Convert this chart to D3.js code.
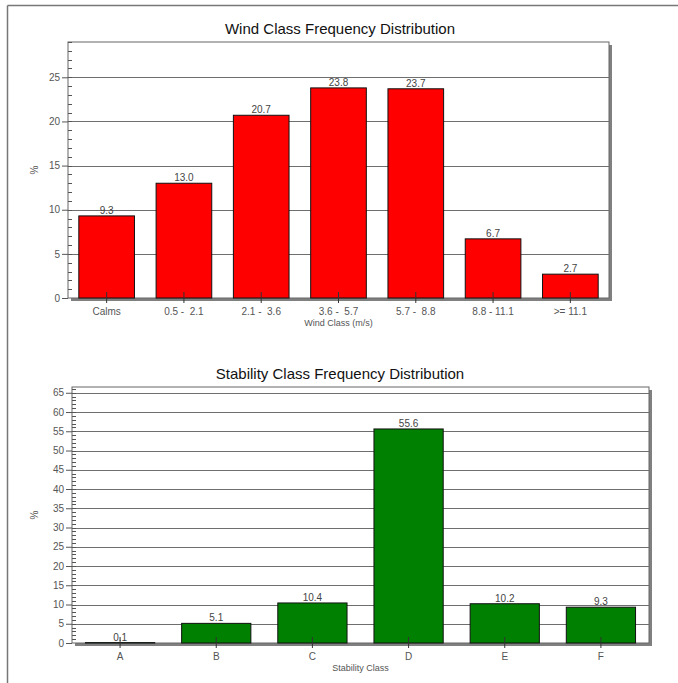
<!DOCTYPE html>
<html lang="en">
<head>
    <meta charset="utf-8">
    <title>Frequency Distribution</title>
    <script src="https://d3js.org/d3.v7.min.js"></script>
    <style>
        body { margin:0; background:#fff; }
        text { font-family: "Liberation Sans", Arial, sans-serif; white-space: pre; }
    </style>
</head>
<body>
<svg width="678" height="683"></svg>
<script>
    // wind class chart
    var windClasses = ["Calms","0.5 -  2.1","2.1 -  3.6","3.6 -  5.7","5.7 -  8.8","8.8 - 11.1",">= 11.1"];
    var windValues = [9.3,13.0,20.7,23.8,23.7,6.7,2.7];
    var windTicks = [0,5,10,15,20,25];

    // stability class chart
    var stabClasses = ["A","B","C","D","E","F"];
    var stabValues = [0.1,5.1,10.4,55.6,10.2,9.3];
    var stabTicks = [0,5,10,15,20,25,30,35,40,45,50,55,60,65];

    var svg = d3.select("svg");

    // page frame
    svg.append("line").attr("x1",7.5).attr("x2",678).attr("y1",5.5).attr("y2",5.5)
        .attr("stroke","#777").attr("stroke-width",1.5);
    svg.append("line").attr("x1",7.5).attr("x2",7.5).attr("y1",5.5).attr("y2",683)
        .attr("stroke","#777").attr("stroke-width",1.5);

    function drawChart(opt){
        var w = opt.right-opt.left, h = opt.bottom-opt.top;
        var g = svg.append("g").attr("transform","translate("+opt.left+","+opt.top+")");

        var x = d3.scaleBand().domain(opt.cats).range([0,w]).paddingInner(opt.pad).paddingOuter(opt.pad/2);
        var y = d3.scaleLinear().domain([0,opt.ymax]).range([h,0]);

        svg.append("text").attr("x",340).attr("y",opt.top-8)
            .attr("text-anchor","middle").attr("font-size",15).attr("fill","#111")
            .text(opt.title);

        // shadow + plot area
        g.append("rect").attr("x",3).attr("y",3).attr("width",w).attr("height",h).attr("fill","#808080");
        g.append("rect").attr("x",0).attr("y",0).attr("width",w).attr("height",h)
            .attr("fill","#fff").attr("stroke","#666").attr("stroke-width",1);

        // gridlines
        g.selectAll(".grid").data(opt.ticks.filter(function(d){return d>0;}))
            .enter().append("line")
            .attr("x1",0).attr("x2",w)
            .attr("y1",function(d){return Math.round(y(d))+0.5;})
            .attr("y2",function(d){return Math.round(y(d))+0.5;})
            .attr("stroke","#6e6e6e").attr("stroke-width",1.2);

        // minor ticks
        g.selectAll(".minor").data(d3.range(1,Math.floor(opt.ymax)+1))
            .enter().append("line")
            .attr("x1",0).attr("x2",4)
            .attr("y1",function(d){return Math.round(y(d))+0.5;})
            .attr("y2",function(d){return Math.round(y(d))+0.5;})
            .attr("stroke","#555");

        // y axis major ticks
        var yAxis = d3.axisLeft(y).tickValues(opt.ticks).tickSize(6).tickPadding(2);
        var ya = g.append("g").call(yAxis);
        ya.select(".domain").remove();
        ya.selectAll("line").attr("stroke","#555");
        ya.selectAll("text").attr("font-size",10).attr("fill","#555")
            .attr("font-family","Liberation Sans, Arial, sans-serif");

        // bars
        g.selectAll(".bar").data(opt.values).enter().append("rect")
            .attr("x",function(d,i){return x(opt.cats[i]);})
            .attr("y",function(d){return y(d);})
            .attr("width",x.bandwidth())
            .attr("height",function(d){return h-y(d);})
            .attr("fill",opt.color).attr("stroke","#111").attr("stroke-width",1);

        g.selectAll(".val").data(opt.values).enter().append("text")
            .attr("x",function(d,i){return x(opt.cats[i])+x.bandwidth()/2;})
            .attr("y",function(d){return y(d)-2;})
            .attr("text-anchor","middle").attr("font-size",10).attr("fill","#444")
            .text(function(d){return d.toFixed(1);});

        // x axis
        var xAxis = d3.axisBottom(x).tickSize(5).tickPadding(5);
        var xa = g.append("g").attr("transform","translate(0,"+h+")").call(xAxis);
        xa.select(".domain").remove();
        xa.selectAll("line").attr("stroke","#333").attr("y1",-6);
        xa.selectAll("text").attr("font-size",10).attr("fill","#555")
            .attr("font-family","Liberation Sans, Arial, sans-serif")
            .style("white-space","pre");

        g.append("text").attr("x",w/2).attr("y",h+28)
            .attr("text-anchor","middle").attr("font-size",9).attr("fill","#555")
            .text(opt.xTitle);

        g.append("text").attr("transform","translate("+(38-opt.left)+","+(h/2)+") rotate(-90)")
            .attr("text-anchor","middle").attr("font-size",10).attr("fill","#555")
            .text("%");
    }

    drawChart({title:"Wind Class Frequency Distribution", cats:windClasses, values:windValues, ticks:windTicks,
        ymax:29, left:68, right:609, top:42, bottom:298, pad:0.28, color:"#ff0000", xTitle:"Wind Class (m/s)"});

    drawChart({title:"Stability Class Frequency Distribution", cats:stabClasses, values:stabValues, ticks:stabTicks,
        ymax:66.5, left:72, right:649, top:387, bottom:643, pad:0.28, color:"#008000", xTitle:"Stability Class"});
</script>
</body>
</html>
